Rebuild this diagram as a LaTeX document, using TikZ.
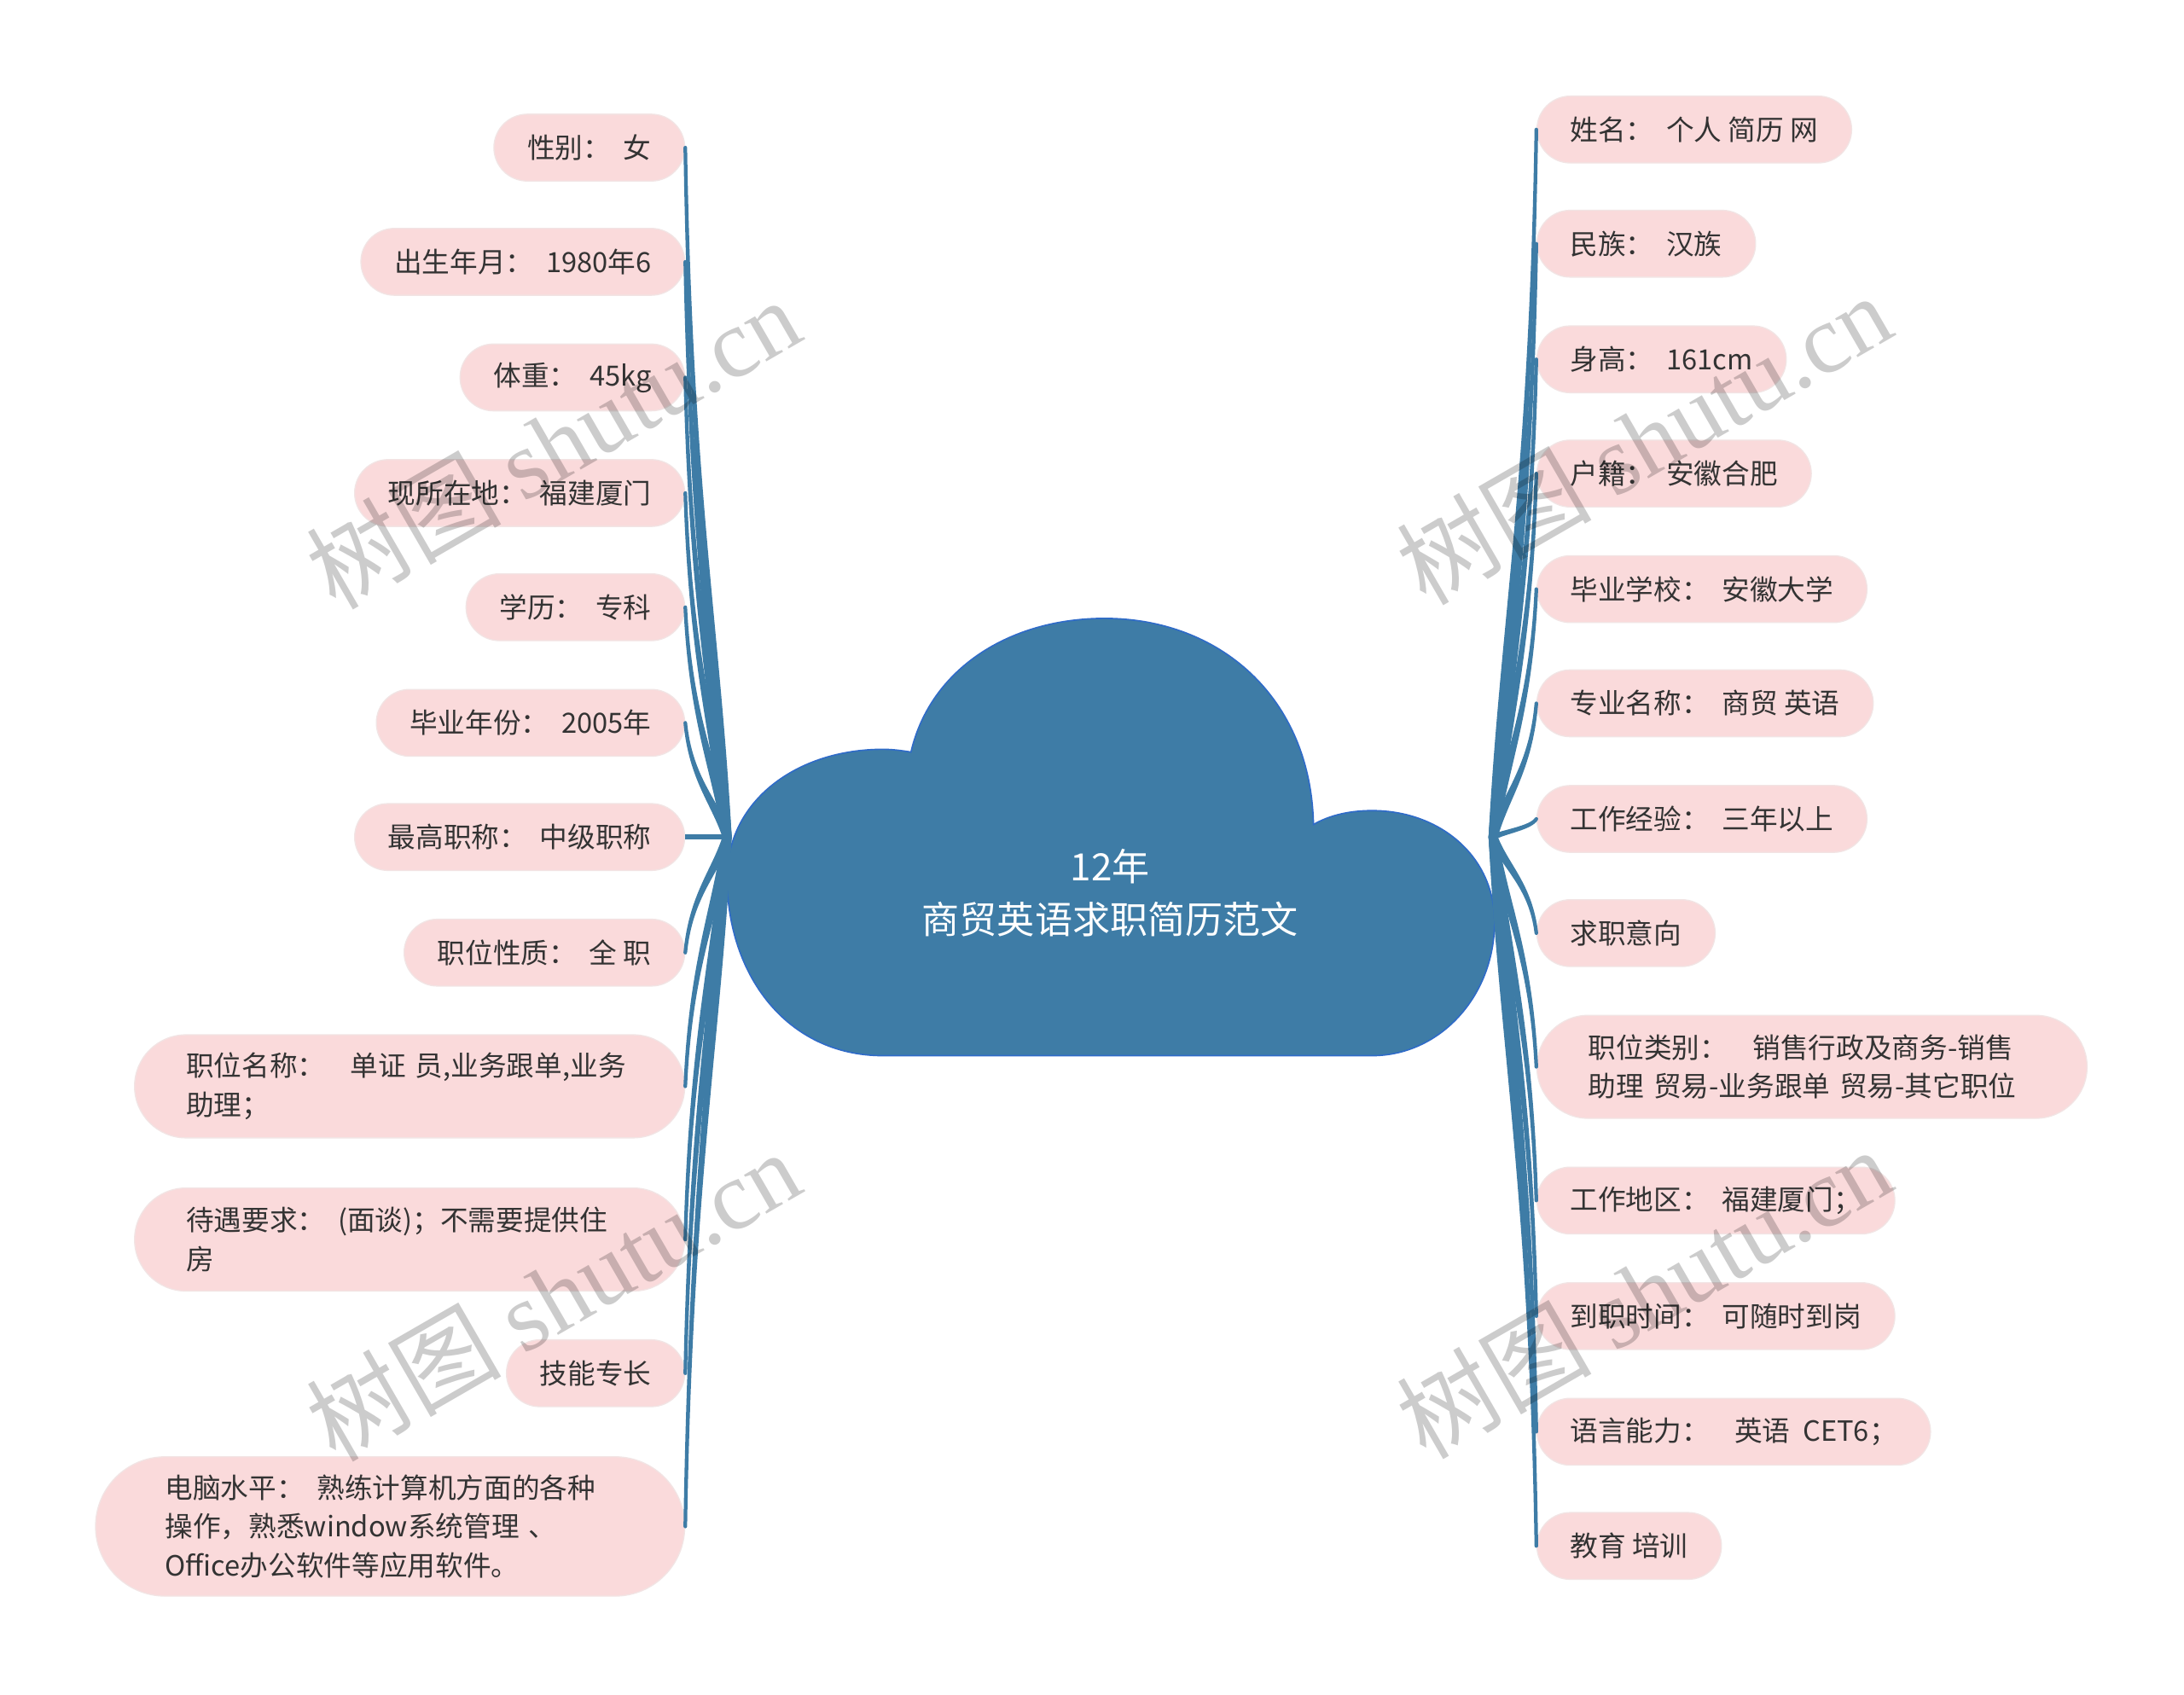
\documentclass[tikz,border=0pt]{standalone}
\usepackage{fontspec}
\setmainfont{Noto Sans CJK SC}
\newfontfamily\markSerif{Liberation Serif}
\usetikzlibrary{calc}

\definecolor{cloudBlue}{HTML}{3E7CA6}
\definecolor{cloudEdge}{HTML}{2F6BC8}
\definecolor{leafPink}{HTML}{FADADB}
\definecolor{leafEdge}{HTML}{F2E4E4}
\definecolor{leafText}{HTML}{333333}

\newcommand{\colGap}{\hspace{0.45em}}
\newcommand{\leftEdgeX}{492}
\newcommand{\rightEdgeX}{1103}

\tikzset{
  leafNode/.style={fill=leafPink, draw=leafEdge, line width=0.8pt, text=leafText,
    font=\fontsize{20}{28}\selectfont, rounded corners=#1pt,
    minimum height=#1pt*2, inner xsep=#1pt, inner ysep=0pt},
  leafNode/.default=24,
  branchLine/.style={fill=cloudBlue, draw=cloudBlue, line width=2.6pt, line join=round},
  % tapered connector: wide at the cloud, thin at the leaf
  branchLeft/.style={branchLine, to path={($(\tikztostart)+(-2,0)$)
      .. controls ($(\tikztostart)!0.3!(\tikztostart|-\tikztotarget)+(-10,0)$) and ($(\tikztotarget)!0.5!(\tikztotarget|-\tikztostart)+(4,0)$) .. (\tikztotarget)
      .. controls ($(\tikztotarget)!0.5!(\tikztotarget|-\tikztostart)+(4,0)$) and ($(\tikztostart)!0.3!(\tikztostart|-\tikztotarget)+(-6,0)$) .. ($(\tikztostart)+(2,0)$) -- cycle}},
  branchRight/.style={branchLine, to path={($(\tikztostart)+(2,0)$)
      .. controls ($(\tikztostart)!0.3!(\tikztostart|-\tikztotarget)+(10,0)$) and ($(\tikztotarget)!0.5!(\tikztotarget|-\tikztostart)+(-4,0)$) .. (\tikztotarget)
      .. controls ($(\tikztotarget)!0.5!(\tikztotarget|-\tikztostart)+(-4,0)$) and ($(\tikztostart)!0.3!(\tikztostart|-\tikztotarget)+(6,0)$) .. ($(\tikztostart)+(-2,0)$) -- cycle}},
  rootText/.style={text=white, align=center, font=\fontsize{27}{38}\selectfont},
  markText/.style={text=black, text opacity=0.2, rotate=30, font=\fontsize{70}{70}\selectfont}
}

\begin{document}
\begin{tikzpicture}[x=1pt,y=1pt]
    \useasboundingbox (0,0) rectangle (1568,-1217);
    \fill[white] (0,0) rectangle (1568,-1217);

    % Cloud
    \filldraw[fill=cloudBlue, draw=cloudEdge, line width=1pt]
        (634,-758) .. controls (565,-758) and (522,-700) .. (522,-630)
        .. controls (522,-575) and (572,-538) .. (634,-538)
        .. controls (641,-538) and (648,-539) .. (654,-540)
        .. controls (668,-480) and (725,-444) .. (793,-444)
        .. controls (875,-444) and (941,-500) .. (943,-592)
        .. controls (955,-585) and (970,-582) .. (985,-582)
        .. controls (1034,-582) and (1073,-615) .. (1073,-662)
        .. controls (1073,-715) and (1034,-758) .. (985,-758)
        -- cycle;
    \node[rootText] (root) at (797,-641) {12年\\商贸英语求职简历范文};
    \coordinate (rootL) at (522,-601);
    \coordinate (rootR) at (1072,-601);

    % Left branch
    \node[leafNode, anchor=east] (nodeGender) at (\leftEdgeX,-106) {性别：\colGap 女};
    \node[leafNode, anchor=east] (nodeBirth) at (\leftEdgeX,-188) {出生年月：\colGap 1980年6};
    \node[leafNode, anchor=east] (nodeWeight) at (\leftEdgeX,-271) {体重：\colGap 45kg};
    \node[leafNode, anchor=east] (nodeLocation) at (\leftEdgeX,-354) {现所在地：\colGap 福建厦门};
    \node[leafNode, anchor=east] (nodeEducation) at (\leftEdgeX,-436) {学历：\colGap 专科};
    \node[leafNode, anchor=east] (nodeGradYear) at (\leftEdgeX,-519) {毕业年份：\colGap 2005年};
    \node[leafNode, anchor=east] (nodeTitle) at (\leftEdgeX,-601) {最高职称：\colGap 中级职称};
    \node[leafNode, anchor=east] (nodeJobType) at (\leftEdgeX,-684) {职位性质：\colGap 全 职};
    \node[leafNode=37, anchor=east, text width=321pt, align=left] (nodeJobName) at (\leftEdgeX,-780) {职位名称：\colGap\colGap 单证 员,业务跟单,业务\\助理；};
    \node[leafNode=37, anchor=east, text width=321pt, align=left] (nodeSalary) at (\leftEdgeX,-890) {待遇要求：\colGap(面谈)；不需要提供住\\房};
    \node[leafNode, anchor=east] (nodeSkills) at (\leftEdgeX,-986) {技能专长};
    \node[leafNode=50, anchor=east, text width=323pt, align=left] (nodeComputer) at (\leftEdgeX,-1096) {电脑水平：\colGap 熟练计算机方面的各种\\操作，熟悉window系统管理 、\\Office办公软件等应用软件。};

    % Right branch
    \node[leafNode, anchor=west] (nodeName) at (\rightEdgeX,-93) {姓名：\colGap 个人 简历 网};
    \node[leafNode, anchor=west] (nodeEthnic) at (\rightEdgeX,-175) {民族：\colGap 汉族};
    \node[leafNode, anchor=west] (nodeHeight) at (\rightEdgeX,-258) {身高：\colGap 161cm};
    \node[leafNode, anchor=west] (nodeHukou) at (\rightEdgeX,-340) {户籍：\colGap 安徽合肥};
    \node[leafNode, anchor=west] (nodeSchool) at (\rightEdgeX,-423) {毕业学校：\colGap 安徽大学};
    \node[leafNode, anchor=west] (nodeMajor) at (\rightEdgeX,-505) {专业名称：\colGap 商贸 英语};
    \node[leafNode, anchor=west] (nodeExperience) at (\rightEdgeX,-588) {工作经验：\colGap 三年以上};
    \node[leafNode, anchor=west] (nodeIntention) at (\rightEdgeX,-670) {求职意向};
    \node[leafNode=37, anchor=west, text width=321pt, align=left] (nodeCategory) at (\rightEdgeX,-766) {职位类别：\colGap\colGap 销售行政及商务-销售\\助理 贸易-业务跟单 贸易-其它职位};
    \node[leafNode, anchor=west] (nodeArea) at (\rightEdgeX,-862) {工作地区：\colGap 福建厦门；};
    \node[leafNode, anchor=west] (nodeStart) at (\rightEdgeX,-945) {到职时间：\colGap 可随时到岗};
    \node[leafNode, anchor=west] (nodeLanguage) at (\rightEdgeX,-1028) {语言能力：\colGap\colGap 英语\colGap CET6；};
    \node[leafNode, anchor=west] (nodeTraining) at (\rightEdgeX,-1110) {教育 培训};

    % Left connectors
    \filldraw[branchLeft] (rootL) to (nodeGender.east);
    \filldraw[branchLeft] (rootL) to (nodeBirth.east);
    \filldraw[branchLeft] (rootL) to (nodeWeight.east);
    \filldraw[branchLeft] (rootL) to (nodeLocation.east);
    \filldraw[branchLeft] (rootL) to (nodeEducation.east);
    \filldraw[branchLeft] (rootL) to (nodeGradYear.east);
    \draw[cloudBlue, line width=3.4pt] (rootL) -- (nodeTitle.east);
    \filldraw[branchLeft] (rootL) to (nodeJobType.east);
    \filldraw[branchLeft] (rootL) to (nodeJobName.east);
    \filldraw[branchLeft] (rootL) to (nodeSalary.east);
    \filldraw[branchLeft] (rootL) to (nodeSkills.east);
    \filldraw[branchLeft] (rootL) to (nodeComputer.east);

    % Right connectors
    \filldraw[branchRight] (rootR) to (nodeName.west);
    \filldraw[branchRight] (rootR) to (nodeEthnic.west);
    \filldraw[branchRight] (rootR) to (nodeHeight.west);
    \filldraw[branchRight] (rootR) to (nodeHukou.west);
    \filldraw[branchRight] (rootR) to (nodeSchool.west);
    \filldraw[branchRight] (rootR) to (nodeMajor.west);
    \filldraw[branchRight] (rootR) to (nodeExperience.west);
    \filldraw[branchRight] (rootR) to (nodeIntention.west);
    \filldraw[branchRight] (rootR) to (nodeCategory.west);
    \filldraw[branchRight] (rootR) to (nodeArea.west);
    \filldraw[branchRight] (rootR) to (nodeStart.west);
    \filldraw[branchRight] (rootR) to (nodeLanguage.west);
    \filldraw[branchRight] (rootR) to (nodeTraining.west);

    % Watermarks
    \node[markText] (markTL) at (397,-318) {树图\ {\markSerif shutu.cn}};
    \node[markText] (markTR) at (1180,-315) {树图\ {\markSerif shutu.cn}};
    \node[markText] (markBL) at (397,-930) {树图\ {\markSerif shutu.cn}};
    \node[markText] (markBR) at (1180,-928) {树图\ {\markSerif shutu.cn}};
\end{tikzpicture}
\end{document}
